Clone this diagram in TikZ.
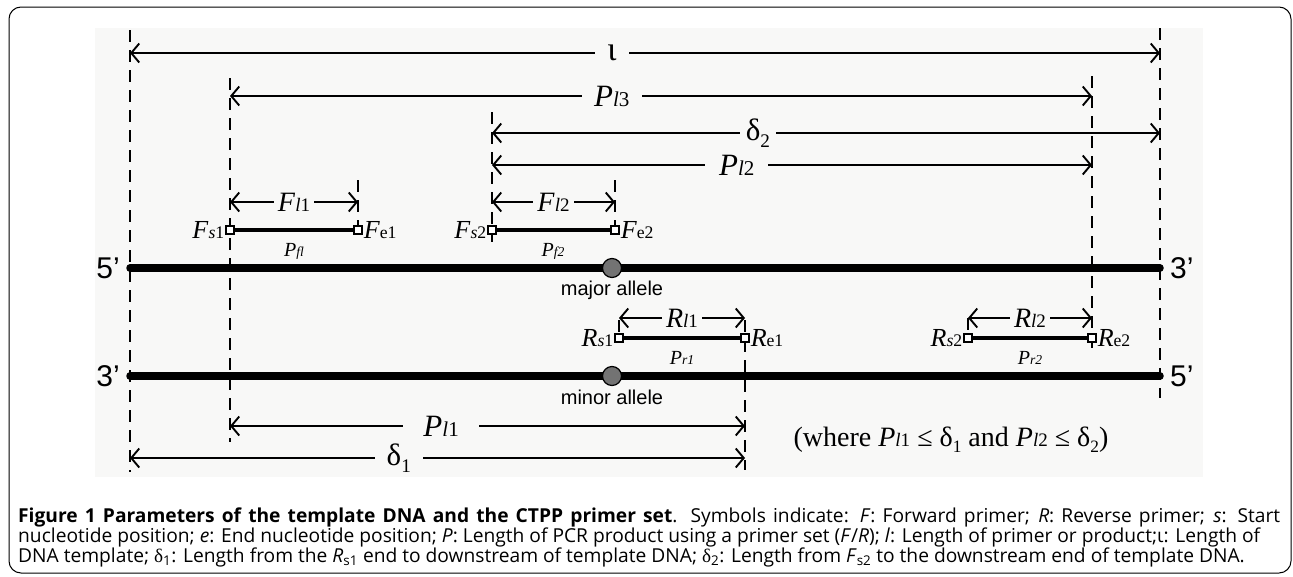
\documentclass[tikz,border=0pt]{standalone}
\usepackage{fontspec}
\setmainfont{Liberation Serif}
\setsansfont{Liberation Sans}
\newfontfamily\capfont{Open Sans}
\usetikzlibrary{arrows.meta,positioning}

\definecolor{panel}{HTML}{F8F8F7}
\definecolor{allelegray}{HTML}{737373}

% symbol with a small subscript on the baseline
\newcommand{\sym}[2]{\textit{#1}{\fontsize{0.68em}{0.68em}\selectfont #2}}
\newcommand{\dsub}[1]{δ\raisebox{-0.22em}{\fontsize{0.62em}{0.62em}\selectfont #1}}

\begin{document}
\begin{tikzpicture}[x=1pt, y=-1pt,
guide/.style={line width=1.7pt, dash pattern=on 12pt off 8pt},
dim/.style={line width=1.9pt, {Straight Barb[length=8pt,width=19pt]}-{Straight Barb[length=8pt,width=19pt]}},
tag/.style={fill=panel, inner xsep=12pt, inner ysep=0pt, font=\fontsize{31}{31}\selectfont},
ftag/.style={tag, inner xsep=4pt, font=\fontsize{28}{28}\selectfont},
strand/.style={line width=7.5pt, line cap=round},
primer/.style={line width=4pt},
endsq/.style={draw, fill=white, line width=1.1pt, minimum size=8pt, inner sep=0pt},
endlbl/.style={inner sep=1pt, font=\fontsize{26}{26}\selectfont},
prodlbl/.style={inner sep=0pt, font=\fontsize{20}{20}\selectfont},
prime/.style={inner sep=2pt, font=\sffamily\fontsize{30}{30}\selectfont},
allele/.style={circle, draw=black, line width=1.2pt, fill=allelegray, minimum size=19pt, inner sep=0pt},
allelelbl/.style={inner sep=0pt, font=\sffamily\fontsize{20}{20}\selectfont},
capline/.style={anchor=west, inner sep=0pt, font=\capfont\fontsize{19.2}{19.2}\selectfont}]

\useasboundingbox (0,0) rectangle (1293,576);
\draw[line width=1pt, rounded corners=12pt] (9,7) rectangle (1291,573);
\fill[panel] (95,28) rectangle (1203,477);

% guides
\coordinate (At) at (130,30);   \coordinate (Ab) at (130,472);
\coordinate (Bt) at (230,78);   \coordinate (Bb) at (230,442);
\coordinate (Ct) at (492,112);  \coordinate (Cb) at (492,242);
\coordinate (Et) at (358,180);  \coordinate (Eb) at (358,230);
\coordinate (Gt) at (615,180);  \coordinate (Gb) at (615,230);
\coordinate (Ht) at (619,320);  \coordinate (Hb) at (619,338);
\coordinate (It) at (745,320);  \coordinate (Ib) at (745,470);
\coordinate (Jt) at (968,318);  \coordinate (Jb) at (968,338);
\coordinate (Kt) at (1092,76);  \coordinate (Kb) at (1092,352);
\coordinate (Dt) at (1160,28);  \coordinate (Db) at (1160,398);
\foreach \g in {A,B,C,E,G,H,I,J,K,D}
  \draw[guide] (\g t) -- (\g b);

% strands
\coordinate (S1) at (130,268); \coordinate (S1e) at (1160,268);
\coordinate (S2) at (130,376); \coordinate (S2e) at (1160,376);
\draw[strand] (S1) -- (S1e);
\draw[strand] (S2) -- (S2e);
\node (p5a) [prime, left=8pt of S1] {5'};
\node (p3a) [prime, right=8pt of S1e] {3'};
\node (p3b) [prime, left=8pt of S2] {3'};
\node (p5b) [prime, right=8pt of S2e] {5'};

\node (major) [allele] at (612,268) {};
\node (minor) [allele] at (612,376) {};
\node [allelelbl] at (612,290) {major allele};
\node [allelelbl] at (612,397) {minor allele};

% length arrows
\draw[dim] (130,53) -- node[tag, pos=0.468, font=\fontsize{34}{34}\selectfont] {ι} (1160,53);
\draw[dim] (230,96) -- node[tag, pos=0.443] {\sym{P}{\textit{l}3}} (1092,96);
\draw[dim] (492,133) -- node[tag, pos=0.398, inner xsep=6pt] {\dsub{2}} (1160,133);
\draw[dim] (492,165) -- node[tag, pos=0.408, inner xsep=14pt] {\sym{P}{\textit{l}2}} (1092,165);
\draw[dim] (230,426) -- node[tag, pos=0.41, inner xsep=20pt] {\sym{P}{\textit{l}1}} (745,426);
\draw[dim] (130,458) -- node[tag, pos=0.437] {\dsub{1}} (745,458);

\draw[dim] (230,202) -- node[ftag] {\sym{F}{\textit{l}1}} (358,202);
\draw[dim] (492,202) -- node[ftag] {\sym{F}{\textit{l}2}} (615,202);
\draw[dim] (619,318) -- node[ftag] {\sym{R}{\textit{l}1}} (745,318);
\draw[dim] (968,318) -- node[ftag] {\sym{R}{\textit{l}2}} (1092,318);

% primers
\node (Fs1) [endsq] at (230,230) {};
\node (Fe1) [endsq] at (358,230) {};
\node (Fs2) [endsq] at (492,230) {};
\node (Fe2) [endsq] at (615,230) {};
\node (Rs1) [endsq] at (619,338) {};
\node (Re1) [endsq] at (745,338) {};
\node (Rs2) [endsq] at (968,338) {};
\node (Re2) [endsq] at (1092,338) {};
\draw[primer] (Fs1) -- (Fe1);
\draw[primer] (Fs2) -- (Fe2);
\draw[primer] (Rs1) -- (Re1);
\draw[primer] (Rs2) -- (Re2);

\node [endlbl, left=0pt of Fs1] {\sym{F}{\textit{s}1}};
\node [endlbl, right=0pt of Fe1] {\sym{F}{e1}};
\node [endlbl, left=0pt of Fs2] {\sym{F}{\textit{s}2}};
\node [endlbl, right=0pt of Fe2] {\sym{F}{e2}};
\node [endlbl, left=0pt of Rs1] {\sym{R}{\textit{s}1}};
\node [endlbl, right=0pt of Re1] {\sym{R}{e1}};
\node [endlbl, left=0pt of Rs2] {\sym{R}{\textit{s}2}};
\node [endlbl, right=0pt of Re2] {\sym{R}{e2}};

\node [prodlbl] at (294,251) {\sym{P}{\textit{fl}}};
\node [prodlbl] at (553,251) {\sym{P}{\textit{f2}}};
\node [prodlbl] at (682,358) {\sym{P}{\textit{r1}}};
\node [prodlbl] at (1030,358) {\sym{P}{\textit{r2}}};

\node (where) [inner sep=0pt, font=\fontsize{28}{28}\selectfont] at (951,440)
  {(where \sym{P}{\textit{l}1} ≤ \dsub{1} and \sym{P}{\textit{l}2} ≤ \dsub{2})};

% caption
\node (cap1) [capline] at (18,517) {\makebox[1262pt][s]{\textbf{Figure 1 Parameters of the template DNA and the CTPP primer set}. Symbols indicate: \textit{F}: Forward primer; \textit{R}: Reverse primer; \textit{s}: Start}};
\node (cap2) [capline] at (18,537) {nucleotide position; \textit{e}: End nucleotide position; \textit{P}: Length of PCR product using a primer set (\textit{F}/\textit{R}); \textit{l}: Length of primer or product;ι: Length of};
\node (cap3) [capline] at (18,557) {DNA template; {\rmfamily δ}\textsubscript{1}: Length from the \textit{R}\textsubscript{s1} end to downstream of template DNA; {\rmfamily δ}\textsubscript{2}: Length from \textit{F}\textsubscript{s2} to the downstream end of template DNA.};
\end{tikzpicture}
\end{document}
